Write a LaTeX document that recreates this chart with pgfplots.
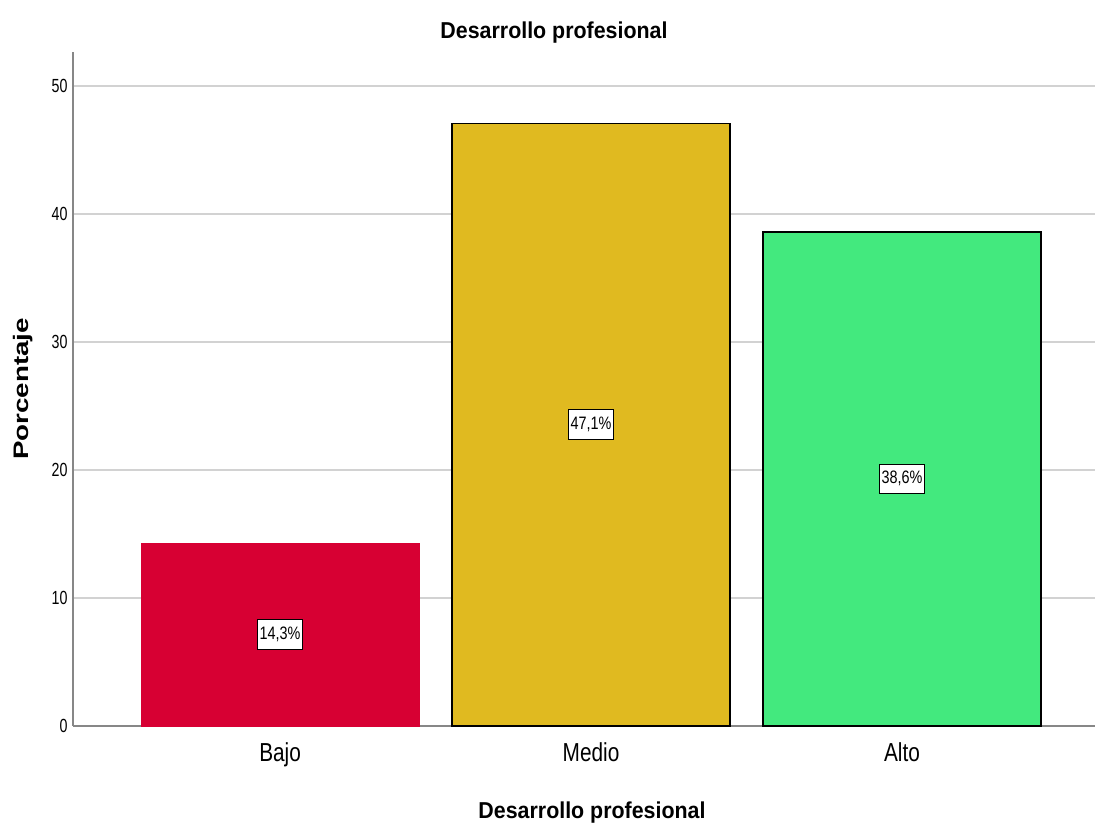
\documentclass[border=0pt]{standalone}
\usepackage{fontspec}
\usepackage{pgfplots}
\pgfplotsset{compat=1.18}
\setmainfont{Liberation Sans}
\newfontfamily\tickfont{Liberation Sans}[FakeStretch=0.75]
\newfontfamily\catfont{Liberation Sans}[FakeStretch=0.8]
\newfontfamily\titlefont{Liberation Sans}[FakeStretch=0.93]
\newfontfamily\ylabfont{Liberation Sans}[FakeStretch=1.32]
\definecolor{cBajo}{RGB}{215,0,51}
\definecolor{cMedio}{RGB}{224,186,32}
\definecolor{cAlto}{RGB}{67,233,126}
\definecolor{gridc}{RGB}{210,210,210}
\definecolor{axc}{RGB}{135,135,135}
\begin{document}
\begin{tikzpicture}[x=1pt,y=1pt]
\useasboundingbox (0,0) rectangle (1095,822);
\begin{axis}[
  at={(73pt,96pt)}, anchor=south west,
  scale only axis, width=1022pt, height=674pt,
  xmin=-0.666, xmax=2.621, ymin=0, ymax=52.66,
  axis x line*=bottom, axis y line*=left,
  axis line style={axc, line width=1.5pt},
  xtick={0,1,2}, xticklabels={Bajo,Medio,Alto},
  ytick={0,10,20,30,40,50},
  major tick length=0pt,
  ymajorgrids, grid style={gridc, line width=2pt},
  yticklabel style={font=\tickfont\fontsize{19}{19}\selectfont, xshift=-2pt},
  xticklabel style={font=\catfont\fontsize{26}{26}\selectfont, yshift=-13pt},
  /pgf/number format/assume math mode=true,
  clip=false,
]
\addplot[ybar, bar shift=0pt, bar width=0.894, fill=cBajo, draw=cBajo] coordinates {(0,14.3)};
\addplot[ybar, bar shift=0pt, bar width=0.894, fill=cMedio, draw=black, line width=1.2pt] coordinates {(1,47.1)};
\addplot[ybar, bar shift=0pt, bar width=0.894, fill=cAlto, draw=black, line width=1.2pt] coordinates {(2,38.6)};
\addplot[draw=none, mark=none, point meta=explicit symbolic,
  nodes near coords, nodes near coords align={center},
  every node near coord/.append style={draw=black, fill=white, line width=1pt, text=black,
    font=\catfont\fontsize{18}{18}\selectfont, inner xsep=2.5pt, inner ysep=6pt,
    text height=13.5pt, text depth=4pt, anchor=center}]
  coordinates {(0,7.15)[14,3\%] (1,23.55)[47,1\%] (2,19.3)[38,6\%]};
\end{axis}
\node[anchor=base, font=\titlefont\bfseries\fontsize{23}{23}\selectfont] at (554,783) {Desarrollo profesional};
\node[anchor=base, font=\titlefont\bfseries\fontsize{23}{23}\selectfont] at (592,4) {Desarrollo profesional};
\node[anchor=base, rotate=90, font=\ylabfont\bfseries\fontsize{21}{21}\selectfont] at (28,433) {Porcentaje};
\end{tikzpicture}
\end{document}
